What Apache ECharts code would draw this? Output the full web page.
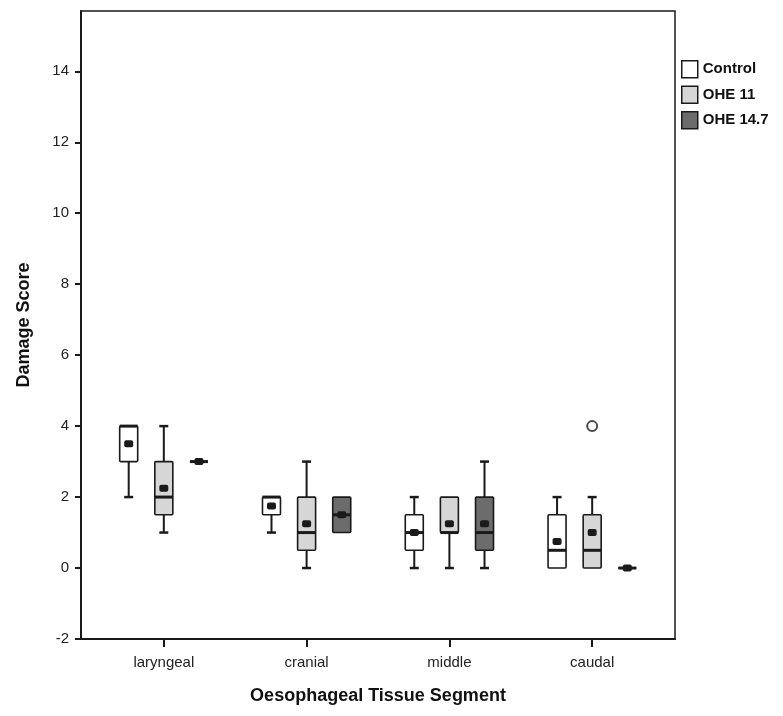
<!DOCTYPE html>
<html>
<head>
<meta charset="utf-8">
<script src="https://cdn.jsdelivr.net/npm/echarts@6/dist/echarts.min.js"></script>
<style>
  html, body { margin: 0; padding: 0; background: #fff; }
  #chart { width: 783px; height: 716px; }
</style>
</head>
<body>
<div id="chart"></div>
<script>
// categories on the x axis
const categories = ['laryngeal', 'cranial', 'middle', 'caudal'];
const groups = ['Control', 'OHE 11', 'OHE 14.7'];
const yTicks = [-2, 0, 2, 4, 6, 8, 10, 12, 14];

// each row: [min, q1, median, q3, max, mean]
const control = [[2, 3, 4, 4, 4, 3.5], [1, 1.5, 2, 2, 2, 1.75], [0, 0.5, 1, 1.5, 2, 1], [0, 0, 0.5, 1.5, 2, 0.75]];
const ohe11 = [[1, 1.5, 2, 3, 4, 2.25], [0, 0.5, 1, 2, 3, 1.25], [0, 1, 1, 2, 2, 1.25], [0, 0, 0.5, 1.5, 2, 1]];
const ohe147 = [[3, 3, 3, 3, 3, 3], [1, 1, 1.5, 2, 2, 1.5], [0, 0.5, 1, 2, 3, 1.25], [0, 0, 0, 0, 0, 0]];

// outliers: [category index, group index, value]
const outliers = [[3, 1, 4]];

const fills = ['#ffffff', '#d6d6d6', '#6c6c6c'];
const offsets = [-0.246, 0, 0.246];
const ink = '#1a1a1a';

function boxRenderer(g) {
  return function (params, api) {
    const x = api.value(0) + offsets[g];
    const xc = api.coord([x, 0])[0];
    const py = v => api.coord([x, v])[1];
    const lo = api.value(1), q1 = api.value(2), med = api.value(3), q3 = api.value(4), hi = api.value(5), mean = api.value(6);
    const hw = 9, cap = 4.5;
    const kids = [];
    const line = (x1, y1, x2, y2, w) => kids.push({
      type: 'line', shape: {x1: x1, y1: y1, x2: x2, y2: y2},
      style: {stroke: ink, lineWidth: w}
    });
    if (hi > q3) {
      line(xc, py(hi), xc, py(q3), 2);
      line(xc - cap, py(hi), xc + cap, py(hi), 2.5);
    }
    if (lo < q1) {
      line(xc, py(q1), xc, py(lo), 2);
      line(xc - cap, py(lo), xc + cap, py(lo), 2.5);
    }
    kids.push({
      type: 'rect',
      shape: {x: xc - hw, y: py(q3), width: hw * 2, height: py(q1) - py(q3), r: 1},
      style: {fill: fills[g], stroke: ink, lineWidth: 1.6}
    });
    line(xc - hw, py(med), xc + hw, py(med), 3);
    kids.push({
      type: 'rect',
      shape: {x: xc - 4.5, y: py(mean) - 3.5, width: 9, height: 7, r: 2},
      style: {fill: ink}
    });
    return {type: 'group', children: kids};
  };
}

const chart = echarts.init(document.getElementById('chart'));

const series = [control, ohe11, ohe147].map((rows, g) => ({
  name: groups[g],
  type: 'custom',
  renderItem: boxRenderer(g),
  itemStyle: {color: fills[g], borderColor: ink, borderWidth: 1.5},
  data: rows.map((r, i) => [i].concat(r))
}));

series.push({
  type: 'scatter',
  symbol: 'circle',
  symbolSize: 10,
  itemStyle: {color: '#fff', borderColor: ink, borderWidth: 2},
  data: outliers.map(o => [o[0] + offsets[o[1]], o[2]])
});

const option = {
  backgroundColor: '#fff',
  animation: false,
  grid: {
    left: 81, right: 108, top: 11, bottom: 77,
    show: true, borderColor: ink, borderWidth: 1.5
  },
  legend: {
    orient: 'vertical',
    left: 676, top: 55,
    itemWidth: 16, itemHeight: 17, itemGap: 7,
    icon: 'rect',
    textStyle: {fontFamily: 'Liberation Sans', fontWeight: 'bold', fontSize: 15, color: '#111'},
    data: groups.map((n, g) => ({
      name: n,
      itemStyle: {color: fills[g], borderColor: ink, borderWidth: 1.5}
    }))
  },
  xAxis: {
    type: 'value',
    min: -0.58, max: 3.58,
    name: 'Oesophageal Tissue Segment',
    nameLocation: 'middle',
    nameGap: 48,
    nameTextStyle: {fontFamily: 'Liberation Sans', fontWeight: 'bold', fontSize: 18, color: '#111'},
    splitLine: {show: false},
    axisLine: {onZero: false, lineStyle: {color: ink, width: 2}},
    axisTick: {length: 8, customValues: [0, 1, 2, 3], lineStyle: {color: ink, width: 2}},
    axisLabel: {
      customValues: [0, 1, 2, 3],
      margin: 16,
      fontFamily: 'Liberation Sans', fontSize: 15, color: '#222',
      formatter: v => categories[Math.round(v)]
    }
  },
  yAxis: {
    type: 'value',
    min: -2, max: 15.7,
    name: 'Damage Score',
    nameLocation: 'middle',
    nameGap: 48,
    nameTextStyle: {fontFamily: 'Liberation Sans', fontWeight: 'bold', fontSize: 18, color: '#111'},
    splitLine: {show: false},
    axisLine: {show: true, onZero: false, lineStyle: {color: ink, width: 2}},
    axisTick: {show: true, length: 6, customValues: yTicks, lineStyle: {color: ink, width: 2}},
    axisLabel: {
      customValues: yTicks,
      margin: 12,
      fontFamily: 'Liberation Sans', fontSize: 15, color: '#222'
    }
  },
  series: series
};

chart.setOption(option);
</script>
</body>
</html>
